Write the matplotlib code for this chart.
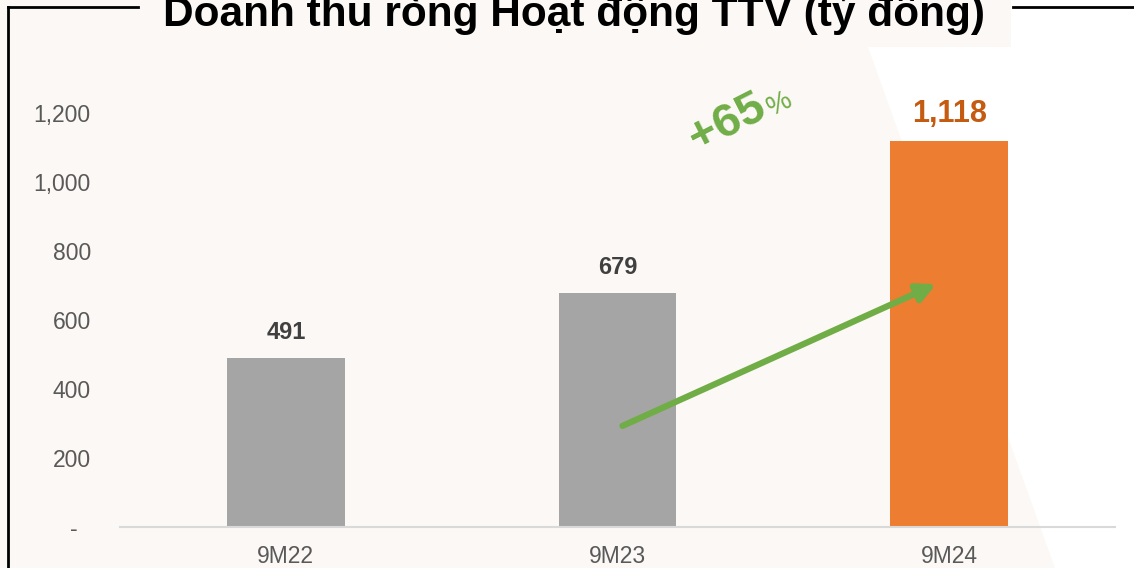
import matplotlib
matplotlib.use("Agg")
import matplotlib.pyplot as plt
from matplotlib import font_manager as fm
from matplotlib.patches import Polygon
from matplotlib.lines import Line2D

# keep the regular-width Liberation Sans, not the Narrow cut
fm.fontManager.ttflist = [f for f in fm.fontManager.ttflist if 'Narrow' not in f.fname]
plt.rcParams['font.family'] = ['Liberation Sans', 'DejaVu Sans']

categories = ['9M22', '9M23', '9M24']
values = [491, 679, 1118]
value_labels = ['491', '679', '1,118']
bar_colors = ['#A5A5A5', '#A5A5A5', '#ED7D31']
label_colors = ['#404040', '#404040', '#C55A11']
label_sizes = [17, 17, 22]
yticks = [0, 200, 400, 600, 800, 1000, 1200]
ytick_labels = ['-  ', '200', '400', '600', '800', '1,000', '1,200']
growth = '+65'
arrow_start = (1.015, 293)
arrow_end = (1.961, 704)

W, H = 1134, 568
bg = '#FCF8F5'
fig = plt.figure(figsize=(W / 100, H / 100), dpi=100)
fig.patch.set_facecolor('white')

def fp(x, y):
    return (x / W, 1 - y / H)

# pink background with slanted white cut on the right
pink = Polygon([fp(0, 0), fp(1011, 0), fp(1011, 47), fp(868, 47), fp(1055, 568), fp(0, 568)],
               closed=True, transform=fig.transFigure, facecolor=bg, edgecolor='none', zorder=-10)
fig.patches.append(pink)

# frame lines
for xs, ys in [([8, 8], [7, 568]), ([8, 138], [7, 7]), ([1013, 1134], [7, 7])]:
    fig.add_artist(Line2D([x / W for x in xs], [1 - y / H for y in ys],
                          transform=fig.transFigure, color='black', lw=2, zorder=-5))

fig.text(574 / W, 1 - 26 / H, 'Doanh thu ròng Hoạt động TTV (tỷ đồng)', ha='center',
         va='baseline', fontsize=30.5, fontweight='bold', color='black')

ax = fig.add_axes([120 / W, 1 - 527 / H, 995 / W, 414 / H])
ax.set_zorder(1)
ax.patch.set_alpha(0)
x = range(len(categories))
ax.bar(x, values, width=0.355, color=bar_colors, zorder=2)
ax.set_xlim(-0.5, 2.5)
ax.set_ylim(0, 1200)

for i, v in enumerate(values):
    ax.annotate(value_labels[i], (i, v), xytext=(0, 20 if i == 2 else 18), textcoords='offset points',
                ha='center', va='center', fontsize=label_sizes[i], fontweight='bold',
                color=label_colors[i], annotation_clip=False)

ax.set_xticks(list(x))
ax.set_xticklabels(categories, fontsize=16.5, color='#595959')
ax.set_yticks(yticks)
ax.set_yticklabels(ytick_labels, fontsize=16.5, color='#595959')
ax.tick_params(axis='both', length=0)
ax.tick_params(axis='y', pad=21)
ax.tick_params(axis='x', pad=13)
for s in ['top', 'right', 'left']:
    ax.spines[s].set_visible(False)
ax.spines['bottom'].set_color('#D9D9D9')
ax.spines['bottom'].set_linewidth(1.5)

ax.annotate('', xy=arrow_end, xytext=arrow_start,
            arrowprops=dict(arrowstyle='-|>,head_length=1.1,head_width=0.55', color='#70AD47',
                            lw=4.5, shrinkA=0, shrinkB=0), zorder=3)

ax.text(1.33, 1170, growth, rotation=27, ha='center', va='center', fontsize=34,
        fontweight='bold', color='#70AD47', clip_on=False)
ax.text(1.488, 1225, '%', rotation=27, ha='center', va='center', fontsize=20,
        color='#70AD47', clip_on=False)

fig.savefig('out.png', dpi=100, facecolor=fig.get_facecolor())
